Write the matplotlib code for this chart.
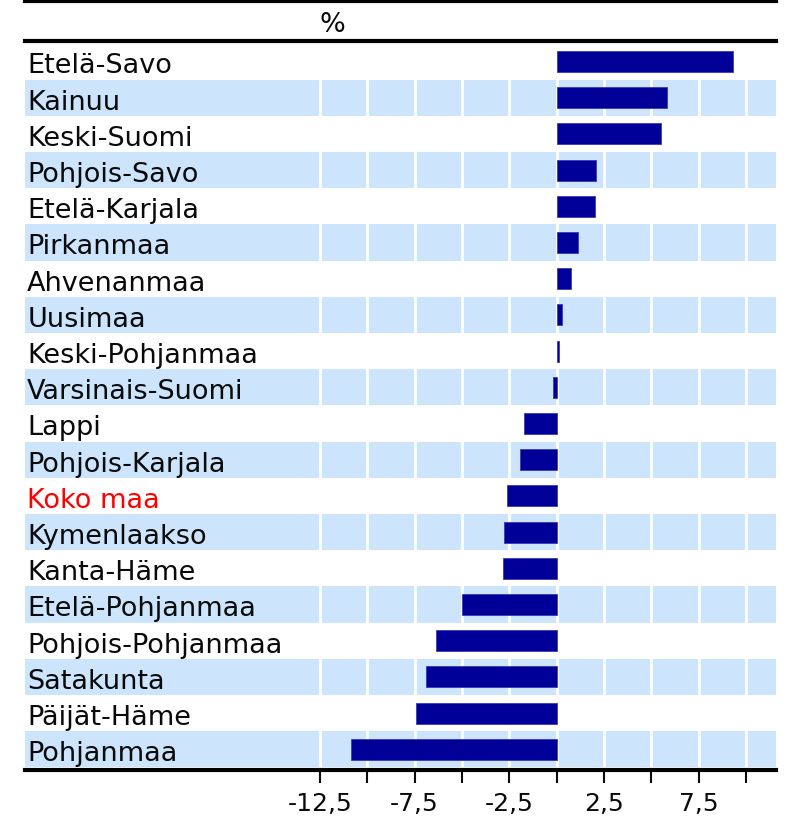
import numpy as np
import matplotlib.pyplot as plt
from matplotlib.lines import Line2D

# regions and change in percent
regions = ["Etelä-Savo", "Kainuu", "Keski-Suomi", "Pohjois-Savo", "Etelä-Karjala",
           "Pirkanmaa", "Ahvenanmaa", "Uusimaa", "Keski-Pohjanmaa", "Varsinais-Suomi",
           "Lappi", "Pohjois-Karjala", "Koko maa", "Kymenlaakso", "Kanta-Häme",
           "Etelä-Pohjanmaa", "Pohjois-Pohjanmaa", "Satakunta", "Päijät-Häme", "Pohjanmaa"]
change = [9.3, 5.8, 5.5, 2.05, 2.0,
          1.1, 0.75, 0.27, 0.1, -0.22,
          -1.75, -1.95, -2.6, -2.8, -2.85,
          -5.0, -6.35, -6.9, -7.45, -10.85]
tick_vals = [-12.5, -10, -7.5, -5, -2.5, 0, 2.5, 5, 7.5, 10]
tick_labels = ["-12,5", "", "-7,5", "", "-2,5", "", "2,5", "", "7,5", ""]

W, H = 790, 820
BAR = "#000099"
BAND = "#cce4fc"
INK = "#0a0a0a"

plt.rcParams['font.family'] = ['DejaVu Sans']

fig = plt.figure(figsize=(W / 100, H / 100), dpi=100)
# axes box in pixels from the top-left corner
left, right, top, bottom = 25, 776, 42, 771
ax = fig.add_axes([left / W, 1 - bottom / H, (right - left) / W, (bottom - top) / H])

row_h = 36.2
zero_px = 556.7
px_per_unit = 18.95
ax.set_xlim((left - zero_px) / px_per_unit, (right - zero_px) / px_per_unit)
ax.set_ylim(19.5 + 2.5 / row_h, -0.5 - 2.4 / row_h)

n = len(regions)
y = np.arange(n)

# alternating light blue rows
for i in y:
    if i % 2 == 1:
        ax.axhspan(i - 0.5, i + 0.5, color=BAND, lw=0, zorder=0)

# white grid lines only show up on the blue rows
ax.vlines(tick_vals, -1, n, colors="white", lw=2, zorder=1)

ax.barh(y, change, height=0.58, color=BAR, edgecolor="#3a3ab8", lw=0.6, zorder=2)

trans = ax.get_yaxis_transform()
for i, name in enumerate(regions):
    col = "#ff0000" if name == "Koko maa" else INK
    ax.text(0.003, i + 0.3, name, transform=trans, fontsize=19.5, color=col,
            ha="left", va="baseline", zorder=3)

ax.set_yticks([])
ax.set_xticks(tick_vals)
ax.set_xticklabels(tick_labels, fontsize=18, color=INK)
ax.tick_params(axis="x", length=9, width=1.5, color=INK, pad=6)

for s in ["left", "right"]:
    ax.spines[s].set_visible(False)
ax.spines["top"].set_linewidth(3)
ax.spines["bottom"].set_linewidth(3)

# small grey ticks under the top rule
top_ax = ax.secondary_xaxis("top")
top_ax.set_xticks(tick_vals)
top_ax.set_xticklabels([])
top_ax.tick_params(direction="in", length=2.5, width=1, color="#999999")
top_ax.spines["top"].set_visible(False)

# header rule and unit
fig.add_artist(Line2D([left / W, right / W], [1 - 1.5 / H, 1 - 1.5 / H],
                      color="black", lw=3))
fig.text(332 / W, 1 - 31.5 / H, "%", fontsize=19.5, color=INK, ha="center",
         va="baseline")

fig.savefig("out.png", dpi=100)
